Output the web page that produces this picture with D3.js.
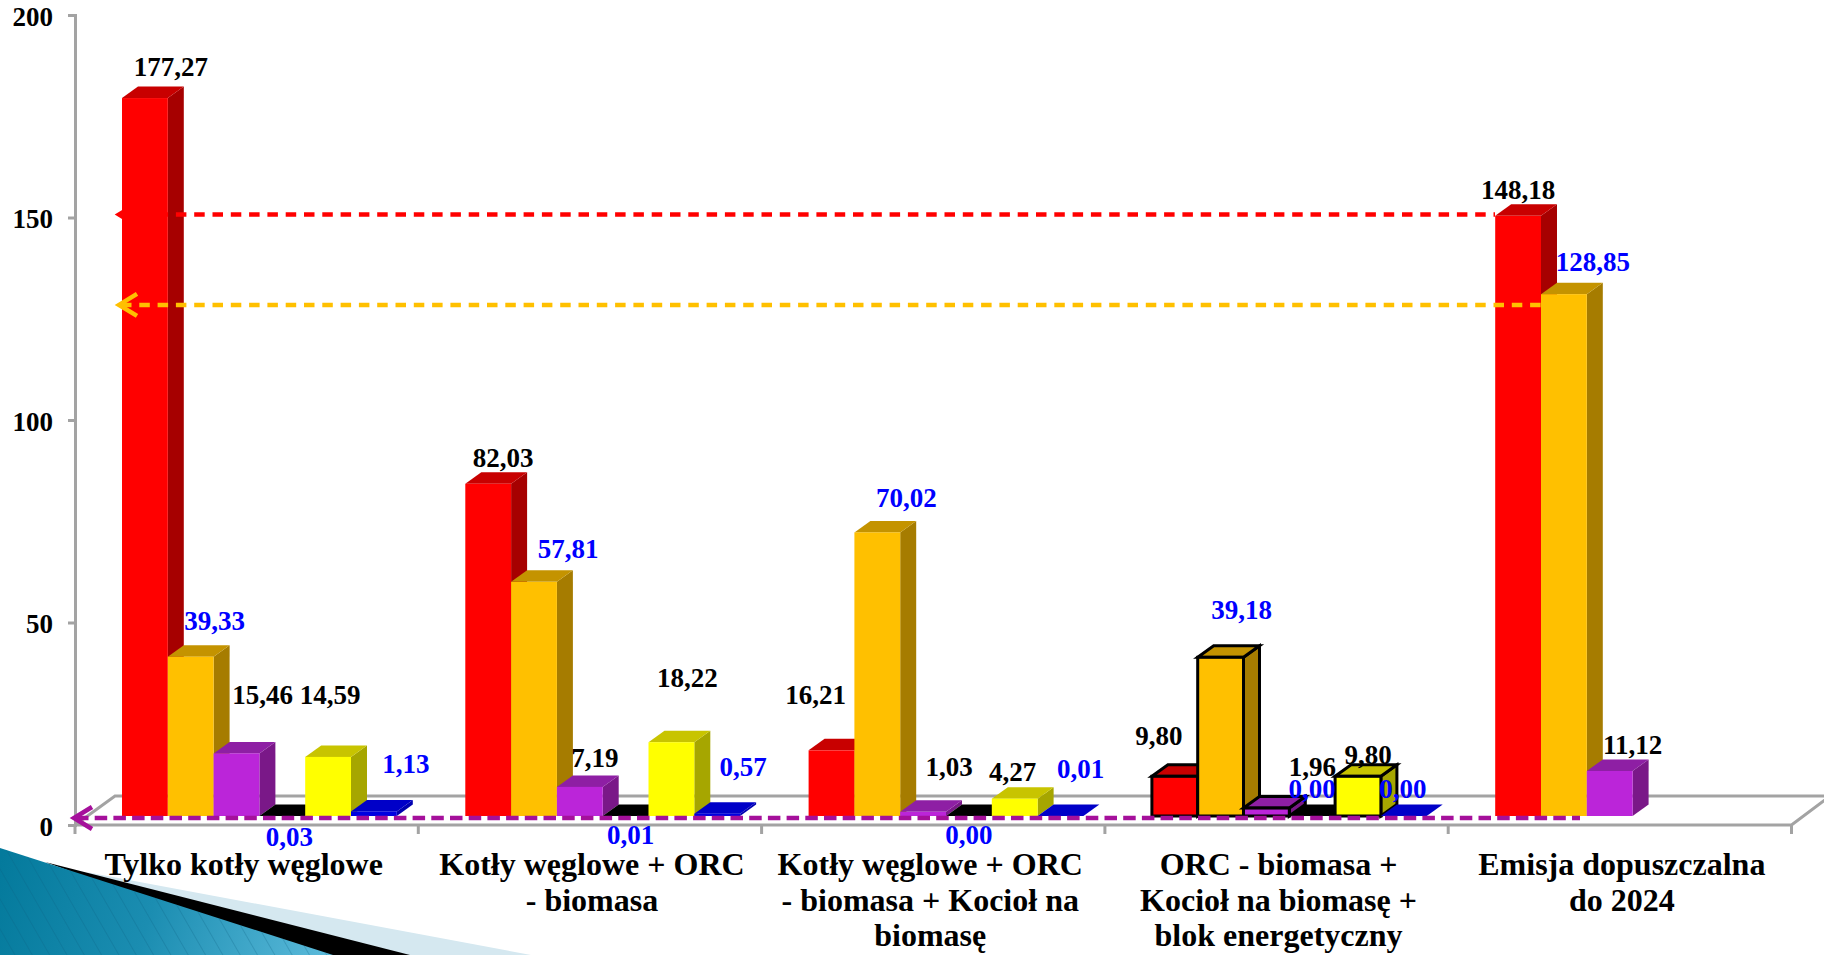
<!DOCTYPE html>
<html><head><meta charset="utf-8">
<script src="https://cdn.jsdelivr.net/npm/d3@7"></script>
<style>html,body{margin:0;background:#fff;overflow:hidden}svg{display:block}text{font-family:"Liberation Serif",serif;font-weight:700}</style>
</head><body><svg id="c" width="1824" height="955"></svg>
<script>
const categories=[["Tylko kotły węglowe"],["Kotły węglowe + ORC","- biomasa"],["Kotły węglowe + ORC","- biomasa + Kocioł na","biomasę"],["ORC - biomasa +","Kocioł na biomasę +","blok energetyczny"],["Emisja dopuszczalna","do 2024"]];
const vRed=[177.27,82.03,16.21,9.80,148.18];
const vOrange=[39.33,57.81,70.02,39.18,128.85];
const vPurple=[15.46,7.19,1.03,1.96,11.12];
const vBlack=[0.03,0.01,0.00,0.00,null];
const vYellow=[14.59,18.22,4.27,9.80,null];
const vBlue=[1.13,0.57,0.01,0.00,null];
const yTicks=[0,50,100,150,200];
const limitValues=[148.5,126.2,-0.5];

const fronts=["#ff0000","#ffc000","#bb25d9","#000000","#ffff00","#0000e0"];
const sides=["#a60000","#a67c00","#7a1888","#000000","#a6a600","#0000b0"];
const tops=["#c80000","#c49300","#8e1fa4","#000000","#c8c400","#0000c8"];
const labelColors=["#000","#0000ff","#000","#0000ff","#000","#0000ff"];
const limitColors=["#ff0000","#ffc000","#a5109b"];
const limitEnds=[1495,1542,1580];
const limitTips=[117,117,72];
const limitDash=["10.5 7.8","10.5 7.8","12.5 6.2"];
// label offsets relative to each bar's centre / top edge
const dxs=[[26,15,-16,-16,0],[24,34,29,21,29],[26,15,26,46,23],[7,5,0,0,0],[2,16,-2,10,0],[32,26,20,-1,0]];
const dys=[[-31,-26,-55,-40,-26],[-36,-33,-34,-47,-32],[-58,-29,-45,-41,-26],[21,19,19,-27,0],[-62,-64,-27,-21,0],[-47,-47,-47,-27,0]];
const catNudge=[-3,2,-3,2,2];
const outlined=3;

const svg=d3.select("#c");
const defs=svg.append("defs");
const g=defs.append("linearGradient").attr("id","teal").attr("gradientUnits","userSpaceOnUse").attr("x1",0).attr("x2",340).attr("y1",860).attr("y2",955);
g.append("stop").attr("offset","0").attr("stop-color","#047a9c");
g.append("stop").attr("offset","0.45").attr("stop-color","#1b8db1");
g.append("stop").attr("offset","1").attr("stop-color","#5fbddd");
const pat=defs.append("pattern").attr("id","stripes").attr("patternUnits","userSpaceOnUse").attr("width",15).attr("height",15).attr("patternTransform","rotate(-30)");
pat.append("line").attr("x1",0).attr("x2",0).attr("y1",0).attr("y2",15).attr("stroke","#0a5f80").attr("stroke-width",1.5).attr("stroke-opacity",0.35);

// corner ornament
svg.append("path").attr("d","M86,872 L531,955 L300,955 Z").attr("fill","#d5e8f0");
svg.append("path").attr("d","M45,862 L410,955 L300,955 Z").attr("fill","#000");
svg.append("path").attr("d","M0,848 L333,955 L0,955 Z").attr("fill","url(#teal)");
svg.append("path").attr("d","M0,848 L333,955 L0,955 Z").attr("fill","url(#stripes)");

const x=d3.scaleBand().domain(d3.range(categories.length)).range([75,1791.5]);
const y=d3.scaleLinear().domain([0,200]).range([825,15]);
const barW=45.8, depthX=16, depthY=11.5, shiftX=12, shiftY=9, gap=35;
const barX=(c,s)=>x(c)+shiftX+gap+s*barW;
const barY=v=>y(v)-shiftY;

// floor
const grey="#a3a3a3";
svg.append("path").attr("fill","none").attr("stroke",grey).attr("stroke-width",3)
 .attr("d",`M75,${y(0)} L115,${y(0)-29} L1830,${y(0)-29} M75,${y(0)} L1791.5,${y(0)} L1830,${y(0)-29}`);
// axes
const ya=d3.axisLeft(y).tickValues(yTicks).tickSize(7).tickFormat(d3.format("d"));
const ag=svg.append("g").attr("transform","translate(75,0)").call(ya);
ag.selectAll("path,line").attr("stroke",grey).attr("stroke-width",3);
ag.selectAll("text").attr("x",-22).attr("dy",10).attr("font-size",27).attr("fill","#000").style("font-family",'"Liberation Serif",serif');
svg.append("g").selectAll("line").data(d3.range(categories.length+1)).join("line")
 .attr("x1",i=>75+i*x.bandwidth()).attr("x2",i=>75+i*x.bandwidth()).attr("y1",y(0)).attr("y2",y(0)+9).attr("stroke",grey).attr("stroke-width",3);

// bars
const all=[vRed,vOrange,vPurple,vBlack,vYellow,vBlue];
const bars=[];
categories.forEach((_,c)=>all.forEach((arr,s)=>{if(arr[c]!==null)bars.push({c,s,v:arr[c]});}));
const bg=svg.selectAll("g.bar").data(bars).join("g").attr("class","bar");
bg.each(function(d){
 const e=d3.select(this),X=barX(d.c,d.s),Y=barY(d.v),B=barY(0),w=barW;
 const st=d.c===outlined&&d.s!==3&&d.s!==5;
 const stroke=st?"#000":"none",sw=st?3:0;
 e.append("path").attr("d",`M${X+w},${B} L${X+w+depthX},${B-depthY} L${X+w+depthX},${Y-depthY} L${X+w},${Y} Z`).attr("fill",sides[d.s]).attr("stroke",stroke).attr("stroke-width",sw);
 e.append("path").attr("d",`M${X},${Y} L${X+depthX},${Y-depthY} L${X+w+depthX},${Y-depthY} L${X+w},${Y} Z`).attr("fill",tops[d.s]).attr("stroke",stroke).attr("stroke-width",sw);
 e.append("rect").attr("x",X).attr("y",Y).attr("width",w).attr("height",B-Y).attr("fill",fronts[d.s]).attr("stroke",stroke).attr("stroke-width",sw);
});

// limit lines
limitValues.forEach((v,i)=>{
 const Y=barY(v),t=limitTips[i];
 svg.append("line").attr("x1",t+4).attr("x2",limitEnds[i]).attr("y1",Y).attr("y2",Y).attr("stroke",limitColors[i]).attr("stroke-width",4.5).attr("stroke-dasharray",limitDash[i]);
 svg.append("path").attr("d",`M${t+20},${Y-11} L${t+2},${Y} L${t+20},${Y+11}`).attr("fill","none").attr("stroke",limitColors[i]).attr("stroke-width",4.5);
});

// labels
svg.selectAll("text.val").data(bars).join("text").attr("class","val")
 .attr("x",d=>barX(d.c,d.s)+barW/2+dxs[d.s][d.c])
 .attr("y",d=>barY(d.v)+dys[d.s][d.c]+9)
 .attr("text-anchor","middle").attr("font-size",27).attr("fill",d=>labelColors[d.s])
 .text(d=>d.v.toFixed(2).replace(".",","));

// category labels
const cg=svg.selectAll("text.cat").data(categories).join("text").attr("class","cat")
 .attr("text-anchor","middle").attr("font-size",32).attr("fill","#000");
cg.each(function(lines,c){
 d3.select(this).selectAll("tspan").data(lines).join("tspan")
  .attr("x",x(c)+x.bandwidth()/2+catNudge[c]).attr("y",(l,i)=>875+i*35.5).text(l=>l);
});
</script></body></html>
